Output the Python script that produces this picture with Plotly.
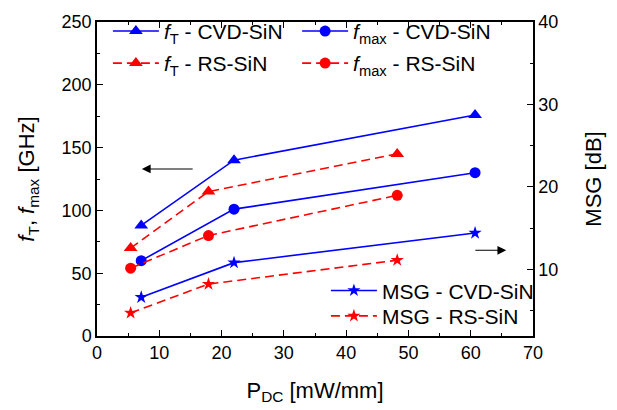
import plotly.graph_objects as go

# Data
x_cvd = [7.1, 22.0, 60.7]
x_rs = [5.4, 17.9, 48.2]
ft_cvd = [88, 140, 176]
ft_rs = [70, 115, 145]
fmax_cvd = [60, 101, 130]
fmax_rs = [54, 80, 112]
msg_cvd = [6.6, 10.8, 14.4]
msg_rs = [4.7, 8.2, 11.1]

BLUE = "#0000ff"
RED = "#ff0000"
DASH = "9px,5px"
FONT = "Liberation Sans, Arial, sans-serif"

fig = go.Figure()

def add(x, y, name, color, symbol, dash, yaxis="y", legend="legend", size=11):
    fig.add_trace(go.Scatter(
        x=x, y=y, name=name, mode="lines+markers", yaxis=yaxis, legend=legend,
        line=dict(color=color, width=1.6, dash=dash),
        marker=dict(color=color, symbol=symbol, size=size),
    ))

add(x_cvd, ft_cvd, "<i>f</i><sub>T</sub> - CVD-SiN", BLUE, "triangle-up", "solid", legend="legend", size=12)
add(x_cvd, fmax_cvd, "<i>f</i><sub>max</sub> - CVD-SiN", BLUE, "circle", "solid", legend="legend5")
add(x_rs, ft_rs, "<i>f</i><sub>T</sub> - RS-SiN", RED, "triangle-up", DASH, legend="legend3", size=12)
add(x_rs, fmax_rs, "<i>f</i><sub>max</sub> - RS-SiN", RED, "circle", DASH, legend="legend6")
add(x_cvd, msg_cvd, "MSG - CVD-SiN", BLUE, "star", "solid", yaxis="y2", legend="legend2", size=10)
add(x_rs, msg_rs, "MSG - RS-SiN", RED, "star", DASH, yaxis="y2", legend="legend4", size=10)

axis_common = dict(
    showline=True, linecolor="black", linewidth=1.5, showgrid=False, zeroline=False,
    ticks="inside", ticklen=6, tickwidth=1.2, tickcolor="black",
    tickfont=dict(size=18, color="black", family=FONT),
)

leg_common = dict(bgcolor="rgba(0,0,0,0)", font=dict(size=21), itemwidth=46,
                  xanchor="left", yanchor="middle", orientation="v")

fig.update_layout(
    width=617, height=410,
    margin=dict(l=97, r=84, t=11, b=74),
    paper_bgcolor="white", plot_bgcolor="white",
    font=dict(family=FONT, color="black", size=18),
    xaxis=dict(**axis_common, range=[0, 70], dtick=10, mirror="ticks",
               minor=dict(dtick=5, ticks="inside", ticklen=3, tickcolor="black"),
               title=dict(text="P<sub>DC</sub> [mW/mm]", font=dict(size=22), standoff=20)),
    yaxis=dict(**axis_common, range=[0, 250], dtick=50,
               minor=dict(dtick=25, ticks="inside", ticklen=3, tickcolor="black"),
               title=dict(text="<i>f</i><sub>T</sub>, <i>f</i><sub>max</sub> [GHz]", font=dict(size=22), standoff=21)),
    yaxis2=dict(**axis_common, range=[1.9, 40], dtick=10, overlaying="y", side="right",
                tick0=0,
                minor=dict(dtick=5, ticks="inside", ticklen=3, tickcolor="black"),
                title=dict(text="MSG [dB]", font=dict(size=22), standoff=28)),
    legend=dict(x=0.025, y=0.970, **leg_common),
    legend5=dict(x=0.459, y=0.970, **leg_common),
    legend3=dict(x=0.025, y=0.868, **leg_common),
    legend6=dict(x=0.459, y=0.868, **leg_common),
    legend2=dict(x=0.525, y=0.144, **leg_common),
    legend4=dict(x=0.525, y=0.063, **leg_common),
    showlegend=True,
)

fig.add_annotation(x=7.2, y=133, ax=15.6, ay=133, xref="x", yref="y", axref="x", ayref="y",
                   showarrow=True, arrowhead=2, arrowsize=1.6, arrowwidth=1.1, arrowcolor="black", text="")
fig.add_annotation(x=65.7, y=12.3, ax=60.5, ay=12.3, xref="x", yref="y2", axref="x", ayref="y2",
                   showarrow=True, arrowhead=2, arrowsize=1.6, arrowwidth=1.1, arrowcolor="black", text="")

fig.write_html("out.html")
